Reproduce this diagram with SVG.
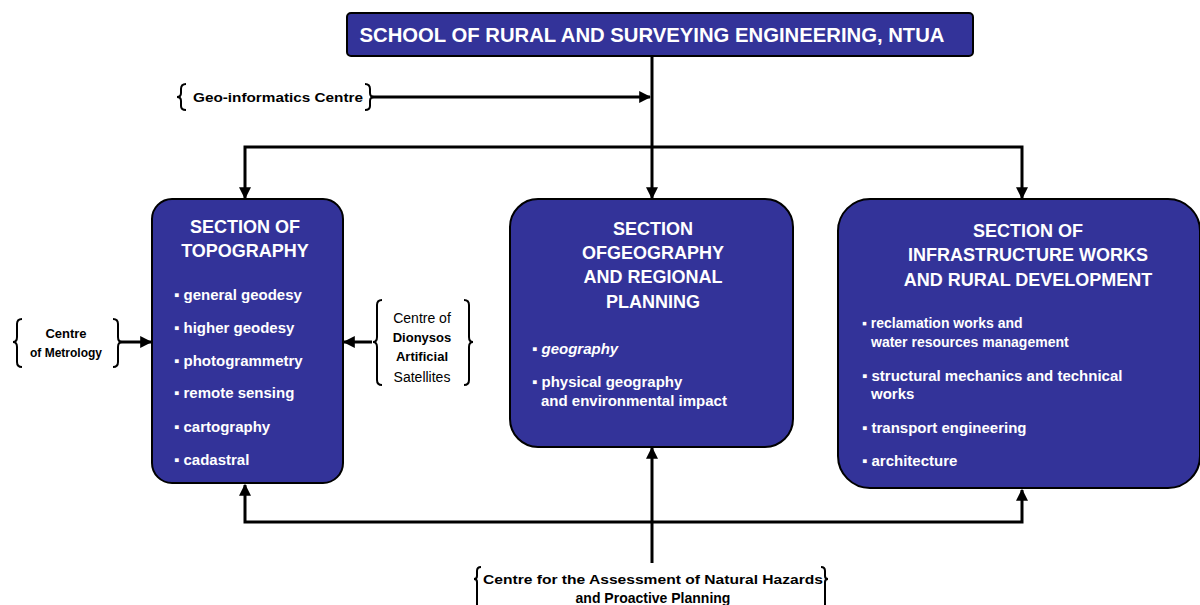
<svg xmlns="http://www.w3.org/2000/svg" width="1200" height="605" viewBox="0 0 1200 605">
<style>
.box{fill:#333399;stroke:#000;stroke-width:2}
.ttl{font-family:"Liberation Sans",Arial,sans-serif;fill:#fff;font-size:18px;font-weight:bold;text-anchor:middle}
.it{font-family:"Liberation Sans",Arial,sans-serif;fill:#fff;font-size:15px;font-weight:bold}
.lab{font-family:"Liberation Sans",Arial,sans-serif;fill:#000;font-size:13px;font-weight:bold}
.ln{stroke:#000;stroke-width:3;fill:none}
.br{stroke:#000;stroke-width:2;fill:none}
</style>
<defs>
<marker id="ah" viewBox="0 0 10 10" refX="9" refY="5" markerWidth="4" markerHeight="4" orient="auto-start-reverse" markerUnits="strokeWidth">
<path d="M0,0 L10,5 L0,10 z" fill="#000"/>
</marker>
</defs>
<rect width="1200" height="605" fill="#fff"/>
<g id="connectors">
<line class="ln" x1="652" y1="56" x2="652" y2="198" marker-end="url(#ah)"/>
<line class="ln" x1="372" y1="97" x2="650" y2="97" marker-end="url(#ah)"/>
<polyline class="ln" points="245,198 245,147 1022,147 1022,198" marker-start="url(#ah)" marker-end="url(#ah)"/>
<line class="ln" x1="652" y1="563" x2="652" y2="448" marker-end="url(#ah)"/>
<polyline class="ln" points="245,485 245,522 1022,522 1022,490" marker-start="url(#ah)" marker-end="url(#ah)"/>
<line class="ln" x1="120" y1="342" x2="151" y2="342" marker-end="url(#ah)"/>
<line class="ln" x1="372" y1="342" x2="344" y2="342" marker-end="url(#ah)"/>
</g>
<g id="school">
<rect class="box" x="347" y="13" width="626" height="43" rx="4"/>
<text class="ttl" x="652" y="42" style="font-size:20px" textLength="585" lengthAdjust="spacingAndGlyphs">SCHOOL OF RURAL AND SURVEYING ENGINEERING, NTUA</text>
</g>
<g id="geoinformatics">
<path class="br" d="M186,84 Q181,84 181,89 L181,93 Q181,97 177,97 Q181,97 181,101 L181,106 Q181,110 186,110"/>
<text class="lab" x="193" y="102" textLength="170" lengthAdjust="spacingAndGlyphs">Geo-informatics Centre</text>
<path class="br" d="M365,84 Q370,84 370,89 L370,93 Q370,97 374,97 Q370,97 370,101 L370,106 Q370,110 365,110"/>
</g>
<g id="topography">
<rect class="box" x="152" y="199" width="191" height="284" rx="20"/>
<text class="ttl" x="245" y="233">SECTION OF</text>
<text class="ttl" x="245" y="257">TOPOGRAPHY</text>
<text class="it" x="174" y="300">▪ general geodesy</text>
<text class="it" x="174" y="333">▪ higher geodesy</text>
<text class="it" x="174" y="366">▪ photogrammetry</text>
<text class="it" x="174" y="398">▪ remote sensing</text>
<text class="it" x="174" y="432">▪ cartography</text>
<text class="it" x="174" y="465">▪ cadastral</text>
</g>
<g id="geography">
<rect class="box" x="510" y="199" width="283" height="248" rx="28"/>
<text class="ttl" x="653" y="235">SECTION</text>
<text class="ttl" x="653" y="259">OFGEOGRAPHY</text>
<text class="ttl" x="653" y="283">AND REGIONAL</text>
<text class="ttl" x="653" y="308">PLANNING</text>
<text class="it" x="532" y="354"><tspan>▪ </tspan><tspan font-style="italic">geography</tspan></text>
<text class="it" x="532" y="387">▪ physical geography</text>
<text class="it" x="541" y="406">and environmental impact</text>
</g>
<g id="infrastructure">
<rect class="box" x="838" y="199" width="362" height="289" rx="32"/>
<text class="ttl" x="1028" y="237">SECTION OF</text>
<text class="ttl" x="1028" y="261">INFRASTRUCTURE WORKS</text>
<text class="ttl" x="1028" y="286">AND RURAL DEVELOPMENT</text>
<text class="it" x="862" y="328" style="font-size:14px">▪ reclamation works and</text>
<text class="it" x="871" y="347" style="font-size:14px">water resources management</text>
<text class="it" x="862" y="381">▪ structural mechanics and technical</text>
<text class="it" x="871" y="399">works</text>
<text class="it" x="862" y="433">▪ transport engineering</text>
<text class="it" x="862" y="466">▪ architecture</text>
</g>
<g id="metrology">
<path class="br" d="M22,319 Q17,319 17,324 L17,337 Q17,342 13,342 Q17,342 17,347 L17,362 Q17,367 22,367"/>
<text class="lab" x="66" y="338" text-anchor="middle">Centre</text>
<text class="lab" x="66" y="357" text-anchor="middle" style="font-size:12px">of Metrology</text>
<path class="br" d="M113,319 Q118,319 118,324 L118,337 Q118,342 122,342 Q118,342 118,347 L118,362 Q118,367 113,367"/>
</g>
<g id="dionysos">
<path class="br" d="M382,300 Q377,300 377,305 L377,337 Q377,342 373,342 Q377,342 377,347 L377,380 Q377,385 382,385"/>
<text class="lab" x="422" y="323" text-anchor="middle" style="font-weight:normal;font-size:14px">Centre of</text>
<text class="lab" x="422" y="342" text-anchor="middle">Dionysos</text>
<text class="lab" x="422" y="361" text-anchor="middle">Artificial</text>
<text class="lab" x="422" y="382" text-anchor="middle" style="font-weight:normal;font-size:14px">Satellites</text>
<path class="br" d="M464,300 Q469,300 469,305 L469,337 Q469,342 473,342 Q469,342 469,347 L469,380 Q469,385 464,385"/>
</g>
<g id="hazards">
<path class="br" d="M481,567 Q477,567 477,571 L477,576 Q477,579 474,579 Q477,579 477,582 L477,605"/>
<text class="lab" x="653" y="584" text-anchor="middle" textLength="340" lengthAdjust="spacingAndGlyphs">Centre for the Assessment of Natural Hazards</text>
<text class="lab" x="653" y="603" text-anchor="middle" style="font-size:14px">and Proactive Planning</text>
<path class="br" d="M821,567 Q825,567 825,571 L825,576 Q825,579 828,579 Q825,579 825,582 L825,605"/>
</g>
</svg>
